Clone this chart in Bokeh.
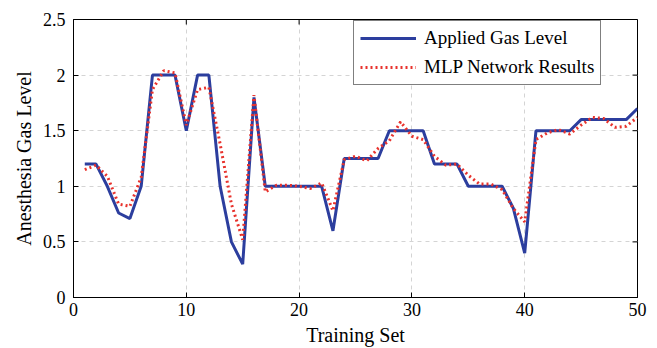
import math
from bokeh.plotting import figure
from bokeh.models import FixedTicker, Legend, LegendItem, Range1d
from bokeh.embed import file_html
from bokeh.resources import INLINE

training_set = list(range(1, 51))
applied_gas = [1.2, 1.2, 1.0, 0.76, 0.71, 1.0, 2.0, 2.0, 2.0, 1.5,
               2.0, 2.0, 1.0, 0.5, 0.3, 1.8, 1.0, 1.0, 1.0, 1.0,
               1.0, 1.0, 0.6, 1.25, 1.25, 1.25, 1.25, 1.5, 1.5, 1.5,
               1.5, 1.2, 1.2, 1.2, 1.0, 1.0, 1.0, 1.0, 0.8, 0.4,
               1.5, 1.5, 1.5, 1.5, 1.6, 1.6, 1.6, 1.6, 1.6, 1.7]
mlp_results = [1.15, 1.19, 1.09, 0.84, 0.82, 1.08, 1.87, 2.04, 2.02, 1.55,
               1.87, 1.89, 1.38, 0.84, 0.52, 1.82, 0.95, 1.01, 1.01, 1.0,
               0.98, 1.03, 0.78, 1.24, 1.27, 1.23, 1.34, 1.41, 1.58, 1.45,
               1.42, 1.27, 1.19, 1.2, 1.10, 1.02, 1.02, 0.97, 0.80, 0.68,
               1.42, 1.48, 1.51, 1.47, 1.55, 1.62, 1.61, 1.53, 1.54, 1.62]
x_ticks = [0, 10, 20, 30, 40, 50]
y_ticks = [0, 0.5, 1, 1.5, 2, 2.5]
y_tick_labels = ["0", "0.5", "1", "1.5", "2", "2.5"]
x_min, x_max = 0, 50
y_min, y_max = 0, 2.5

FONT = "Liberation Serif"

p = figure(width=657, height=348, output_backend="svg", toolbar_location=None,
           x_range=Range1d(x_min, x_max), y_range=Range1d(y_min, y_max),
           min_border_left=73, min_border_right=20, min_border_top=19,
           min_border_bottom=50)
p.outline_line_color = "black"
p.outline_line_width = 1
p.background_fill_color = "white"

for ax in (p.xaxis[0], p.yaxis[0]):
    ax.major_label_text_font = FONT
    ax.major_label_text_font_size = "18px"
    ax.major_label_text_color = "black"
    ax.axis_label_text_font = FONT
    ax.axis_label_text_font_size = "20px"
    ax.axis_label_text_font_style = "normal"
    ax.axis_label_text_color = "black"
    ax.major_tick_in = 5
    ax.major_tick_out = 0
    ax.minor_tick_line_color = None
    ax.axis_line_color = "black"
    ax.major_tick_line_color = "black"

p.xaxis[0].ticker = FixedTicker(ticks=x_ticks)
p.yaxis[0].ticker = FixedTicker(ticks=y_ticks)
p.yaxis[0].major_label_overrides = {t: l for t, l in zip(y_ticks, y_tick_labels)}
p.xaxis[0].axis_label = "Training Set"
p.yaxis[0].axis_label = "Anesthesia Gas Level"
p.xaxis[0].major_label_standoff = 5
p.xaxis[0].axis_label_standoff = 5
p.yaxis[0].major_label_standoff = 8
p.yaxis[0].axis_label_standoff = 5

# inward ticks on the top and right edges of the box
p.ray(x=x_ticks, y=[y_max] * len(x_ticks), length=5, length_units="screen",
      angle=-math.pi / 2, line_color="black", line_width=1)
p.ray(x=[x_max] * len(y_ticks), y=y_ticks, length=5, length_units="screen",
      angle=math.pi, line_color="black", line_width=1)

p.xgrid.ticker = FixedTicker(ticks=x_ticks[1:-1])
p.ygrid.ticker = FixedTicker(ticks=y_ticks[1:-1])
for g in (p.xgrid[0], p.ygrid[0]):
    g.grid_line_color = "#d4d4d4"
    g.grid_line_dash = "4 4"
    g.grid_line_width = 1

r1 = p.line(training_set, applied_gas, line_color="#2c3e9e", line_width=3)
r2 = p.line(training_set, mlp_results, line_color="#e8322c", line_width=3,
            line_dash="2 3")

legend = Legend(items=[LegendItem(label="Applied Gas Level", renderers=[r1]),
                       LegendItem(label="MLP Network Results", renderers=[r2])],
                location=(280, 212), margin=0, padding=6, spacing=7,
                glyph_width=56, glyph_height=20, label_height=20,
                label_standoff=8, label_text_font=FONT,
                label_text_font_size="19px", label_text_color="black",
                border_line_color="black", border_line_width=1,
                background_fill_alpha=1)
p.add_layout(legend, "center")

open("out.html", "w").write(file_html(p, INLINE))
